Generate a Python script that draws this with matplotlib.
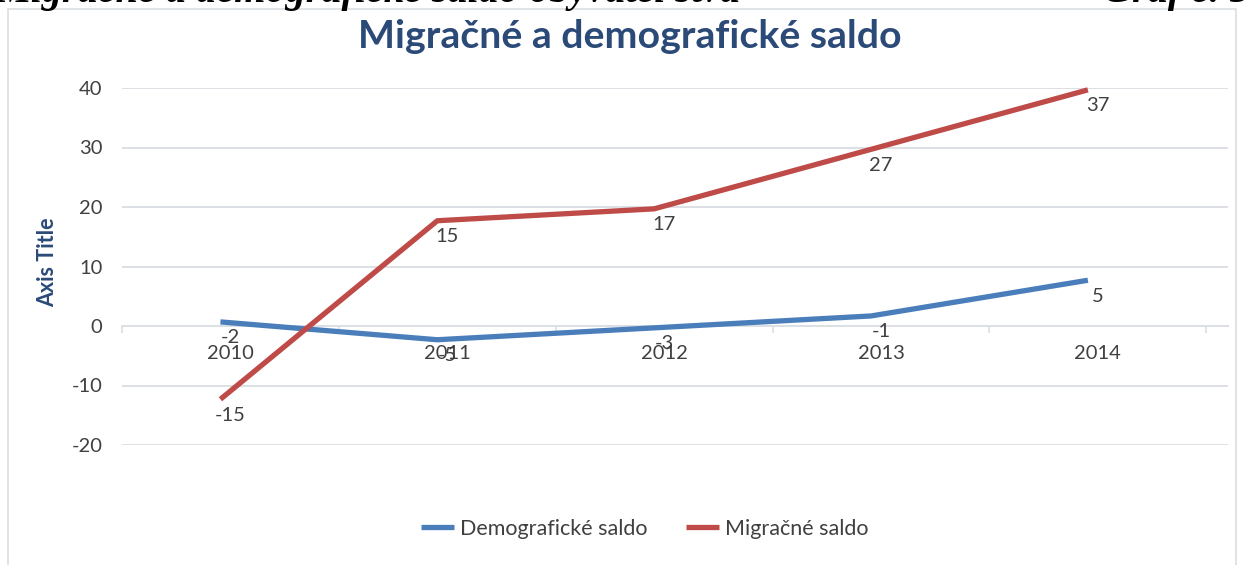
import matplotlib.pyplot as plt
import matplotlib.transforms as mtransforms
from matplotlib.patches import Rectangle

years = ["2010", "2011", "2012", "2013", "2014"]
demograficke = [-2, -5, -3, -1, 5]
migracne = [-15, 15, 17, 27, 37]
y_ticks = [-20, -10, 0, 10, 20, 30, 40]

blue = "#4A7EBB"
red = "#BE4B48"
grid_c = "#DCDFE3"
txt_c = "#404040"
title_c = "#2B4A78"

plt.rcParams["font.family"] = ["Lato", "DejaVu Sans"]

fig = plt.figure(figsize=(12.48, 5.65), dpi=100)
W, H = 1248, 565

# chart area frame (top of it sits just under the clipped caption line)
fig.patches.append(Rectangle((8 / W, -0.05), (1236 - 8) / W, 1.05 - 9 / H,
                             transform=fig.transFigure, facecolor="white",
                             edgecolor=grid_c, lw=1.2, zorder=-1))

# caption of the page, mostly cut off by the top edge
fig.text(-4 / W, 1 - 2 / H, "Migračné a demografické saldo obyvateľstva",
         family="Liberation Serif", weight="bold", style="italic",
         fontsize=29, va="baseline", ha="left", color="black")
fig.text(1 + 2 / W, 1 - 2 / H, "Graf č. 5", family="Liberation Serif",
         weight="bold", style="italic", fontsize=29, va="baseline",
         ha="right", color="black")

ax = fig.add_axes([122 / W, 1 - 445 / H, (1228 - 122) / W, (445 - 88) / H])
ax.set_facecolor("none")
x = list(range(len(years)))

# the series are drawn a bit up and left of their labels, as in the source
shift = mtransforms.ScaledTranslation(-10 / 100, 16 / 100, fig.dpi_scale_trans)
ax.plot(x, demograficke, color=blue, lw=3.8, solid_capstyle="butt",
        transform=ax.transData + shift, clip_on=False, label="Demografické saldo",
        zorder=3)
ax.plot(x, migracne, color=red, lw=3.8, solid_capstyle="butt",
        transform=ax.transData + shift, clip_on=False, label="Migračné saldo",
        zorder=3)

for xi, v in zip(x, demograficke):
    ax.text(xi, v, str(v), ha="center", va="center", fontsize=14.5, color=txt_c,
            zorder=4)
for xi, v in zip(x, migracne):
    ax.text(xi, v, str(v), ha="center", va="center", fontsize=14.5, color=txt_c,
            zorder=4)

ax.set_xlim(-0.5, 4.6)
ax.set_ylim(-20, 40)
ax.set_yticks(y_ticks)
ax.set_yticklabels([str(t) for t in y_ticks])
ax.set_xticks(x)
ax.set_xticklabels(years)
ax.set_xticks([i - 0.5 for i in range(len(years) + 1)], minor=True)
ax.grid(axis="y", color=grid_c, lw=1.4, zorder=1)
ax.set_axisbelow(True)
for s in ["top", "right", "left"]:
    ax.spines[s].set_visible(False)
ax.spines["bottom"].set_position(("data", 0))
ax.spines["bottom"].set_color(grid_c)
ax.spines["bottom"].set_linewidth(1.4)
ax.tick_params(axis="x", which="major", length=0, pad=14, labelsize=14.5,
               labelcolor=txt_c)
ax.tick_params(axis="x", which="minor", length=5, color=grid_c, width=1.2,
               direction="out")
ax.tick_params(axis="y", length=0, pad=14, labelsize=14.5, labelcolor=txt_c)

fig.text(48 / W, 1 - 262 / H, "Axis Title", rotation=90, ha="center",
         va="center", fontsize=15.5, weight="bold", color=title_c)
fig.text(630 / W, 1 - 36 / H, "Migračné a demografické saldo", ha="center",
         va="center", fontsize=28.3, weight="bold", color=title_c)

fig.legend(loc="center", bbox_to_anchor=(645 / W, 1 - 529 / H), ncol=2,
           frameon=False, fontsize=15.5, labelcolor=txt_c, handlelength=1.5,
           handletextpad=0.3, columnspacing=1.8)

fig.savefig("out.png", dpi=100)
